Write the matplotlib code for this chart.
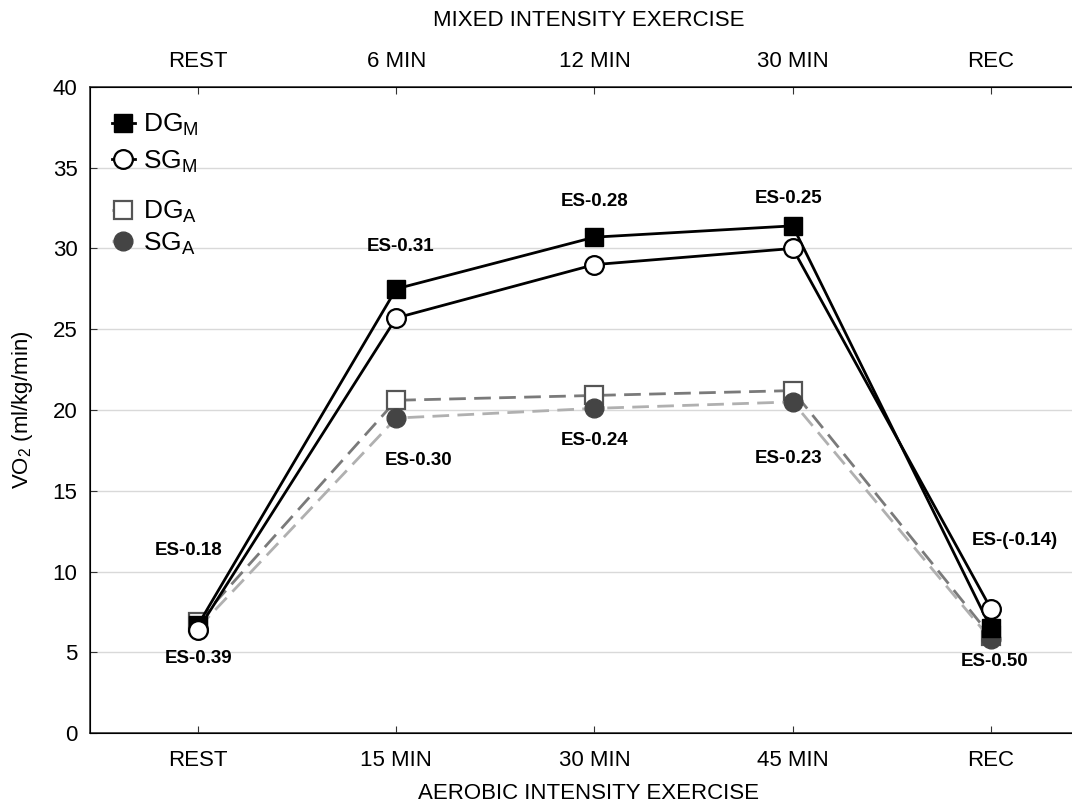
import matplotlib.pyplot as plt

plt.rcParams['font.family'] = ['Liberation Sans', 'DejaVu Sans']
plt.rcParams['mathtext.fontset'] = 'custom'
plt.rcParams['mathtext.rm'] = 'Liberation Sans'
plt.rcParams['mathtext.it'] = 'Liberation Sans:italic'

# データ
bottom_labels = ['REST', '15 MIN', '30 MIN', '45 MIN', 'REC']
top_labels = ['REST', '6 MIN', '12 MIN', '30 MIN', 'REC']
dg_m = [6.7, 27.5, 30.7, 31.4, 6.5]
sg_m = [6.4, 25.7, 29.0, 30.0, 7.7]
dg_a = [6.9, 20.6, 20.9, 21.2, 6.0]
sg_a = [6.5, 19.5, 20.1, 20.5, 5.8]

# 効果量ラベル (x, y, text)
es_x = [-0.05, 0.0, 1.02, 1.11, 2.0, 2.0, 2.98, 2.98, 4.12, 4.02]
es_y = [11.3, 4.6, 30.1, 16.9, 32.9, 18.1, 33.1, 17.0, 11.9, 4.4]
es_text = ['ES-0.18', 'ES-0.39', 'ES-0.31', 'ES-0.30', 'ES-0.28',
           'ES-0.24', 'ES-0.25', 'ES-0.23', 'ES-(-0.14)', 'ES-0.50']

x = list(range(len(bottom_labels)))

fig = plt.figure(figsize=(10.72, 8.05), dpi=100)
ax = fig.add_axes([0.084, 0.0894, 0.93, 0.8026])

for v in [5, 10, 15, 20, 25, 30, 35]:
    ax.axhline(v, color='#d9d9d9', lw=1.0, zorder=0)

l1, = ax.plot(x, dg_m, color='black', lw=2.0, marker='s', ms=12.5,
              mfc='black', mec='black', label='DG$_\\mathrm{M}$', zorder=4)
l2, = ax.plot(x, sg_m, color='black', lw=2.0, marker='o', ms=13.5,
              mfc='white', mec='black', mew=1.6, label='SG$_\\mathrm{M}$', zorder=4)
l3, = ax.plot(x, dg_a, color='#7a7a7a', lw=2.0, ls=(0, (6, 3)), marker='s', ms=12.5,
              mfc='white', mec='#555555', mew=1.6, label='DG$_\\mathrm{A}$', zorder=3)
l4, = ax.plot(x, sg_a, color='#b0b0b0', lw=2.0, ls=(0, (6, 3)), marker='o', ms=13.5,
              mfc='#444444', mec='#444444', label='SG$_\\mathrm{A}$', zorder=3)

for ex, ey, et in zip(es_x, es_y, es_text):
    ax.text(ex, ey, et, ha='center', va='center', fontsize=13.5,
            fontweight='bold', zorder=5)

ax.set_xlim(-0.545, 4.485)
ax.set_ylim(0, 40)
ax.set_yticks(range(0, 41, 5))
ax.set_xticks(x)
ax.set_xticklabels(bottom_labels)
ax.tick_params(direction='in', labelsize=16, length=5, color='#333333')
ax.tick_params(axis='x', pad=12)
ax.tick_params(axis='y', pad=9)
ax.spines['right'].set_visible(False)
for s in ['left', 'top', 'bottom']:
    ax.spines[s].set_color('#333333')
    ax.spines[s].set_linewidth(1.2)
ax.set_xlabel('AEROBIC INTENSITY EXERCISE', fontsize=16, labelpad=9)
ax.set_ylabel('VO$_2$ (ml/kg/min)', fontsize=16, labelpad=13)

ax2 = ax.twiny()
ax2.set_xlim(ax.get_xlim())
ax2.set_xticks(x)
ax2.set_xticklabels(top_labels)
ax2.tick_params(direction='in', labelsize=16, length=5, color='#333333', pad=11)
ax2.spines['right'].set_visible(False)
ax2.set_xlabel('MIXED INTENSITY EXERCISE', fontsize=16, labelpad=18)

leg1 = ax.legend(handles=[l1, l2], loc='upper left', bbox_to_anchor=(0.003, 0.99),
                 frameon=False, fontsize=19, handlelength=0.9, handletextpad=0.3,
                 labelspacing=0.4, borderaxespad=0.3)
ax.add_artist(leg1)
ax.legend(handles=[l3, l4], loc='upper left', bbox_to_anchor=(0.003, 0.855),
          frameon=False, fontsize=19, handlelength=0.9, handletextpad=0.3,
          labelspacing=0.2, borderaxespad=0.3)

fig.savefig('out.png', dpi=100)
